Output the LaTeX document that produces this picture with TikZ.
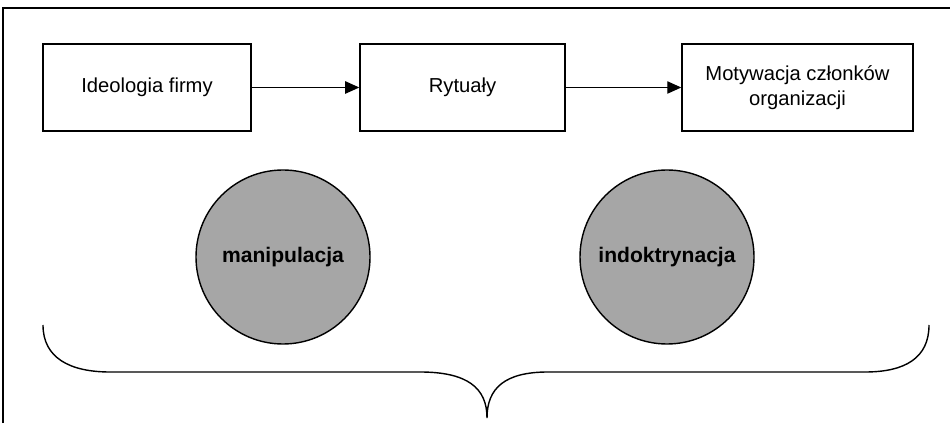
\documentclass[tikz,border=0pt]{standalone}
\usepackage{fontspec}
\setmainfont{Liberation Sans}
\usetikzlibrary{arrows.meta}
\tikzset{
    stage/.style = {draw, fill=white, minimum height=1.74cm, align=center, inner sep=2pt,
                    font=\fontsize{11.5}{14}\selectfont},
    tool/.style = {draw, fill=black!35, circle, minimum size=3.48cm, inner sep=0pt,
                   font=\fontsize{12}{14}\selectfont\bfseries},
    >={Triangle[length=8pt, width=7pt]}
}

\begin{document}
\begin{tikzpicture}[thick]
        \useasboundingbox (0, 0) rectangle (19, 8.46);
        \path[draw] (0.06, 0) -- (0.06, 8.3) -- (19, 8.3);
        \node[stage, minimum width=4.16cm] (ideo) at (2.94, 6.71) {Ideologia firmy};
        \node[stage, minimum width=4.1cm] (ryt) at (9.25, 6.71) {Rytuały};
        \node[stage, minimum width=4.62cm] (mot) at (15.95, 6.71) {Motywacja członków\\organizacji};
        \path[draw, ->] (ideo) -- (ryt);
        \path[draw, ->] (ryt) -- (mot);
        \node[tool] (man) at (5.66, 3.32) {manipulacja};
        \node[tool] (ind) at (13.34, 3.32) {indoktrynacja};
        \coordinate (bl) at (0.86, 1.96);
        \coordinate (tip) at (9.74, 0.1);
        \coordinate (br) at (18.58, 1.96);
        \path[draw] (bl) .. controls (0.86, 1.3) and (1.4, 1.02) .. (2.2, 1.02) -- (8.4, 1.02)
            .. controls (9.35, 1.02) and (9.74, 0.7) .. (tip)
            .. controls (9.74, 0.7) and (10.1, 1.02) .. (10.96, 1.02) -- (17.3, 1.02)
            .. controls (18.1, 1.02) and (18.58, 1.3) .. (br);
    \end{tikzpicture}
\end{document}
